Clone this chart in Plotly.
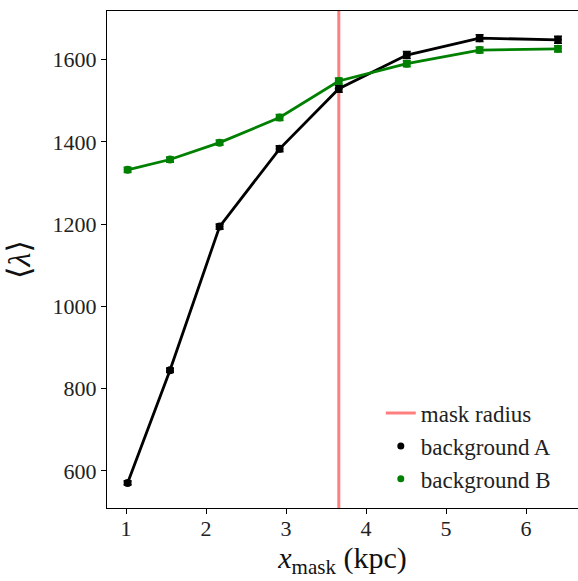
import plotly.graph_objects as go

x_mask = [1.02, 1.55, 2.17, 2.92, 3.66, 4.51, 5.42, 6.40]
lam_A = [571, 845, 1194, 1383, 1529, 1611, 1652, 1648]
err_A = [5, 5, 6, 7, 8, 8, 8, 8]
lam_B = [1332, 1357, 1398, 1459, 1548, 1590, 1623, 1626]
err_B = [6, 6, 6, 7, 7, 7, 7, 7]
mask_radius = 3.66
x_range = [0.7625, 6.65]
y_range = [510, 1718]
y_ticks = [600, 800, 1000, 1200, 1400, 1600]
x_ticks = [1, 2, 3, 4, 5, 6]

FONT = "Liberation Serif, DejaVu Serif, serif"
fig = go.Figure()

# mask radius line
fig.add_trace(go.Scatter(x=[mask_radius, mask_radius], y=y_range, mode="lines",
                         line=dict(color="rgba(255,0,0,0.5)", width=3),
                         name="mask radius", legendgroup="g1", showlegend=True))

fig.add_trace(go.Scatter(x=x_mask, y=lam_A, mode="lines+markers",
                         line=dict(color="black", width=2.8),
                         marker=dict(color="black", size=8),
                         error_y=dict(type="data", array=err_A, color="black", thickness=1.8, width=4),
                         showlegend=False))
fig.add_trace(go.Scatter(x=x_mask, y=lam_B, mode="lines+markers",
                         line=dict(color="green", width=2.8),
                         marker=dict(color="green", size=8),
                         error_y=dict(type="data", array=err_B, color="green", thickness=1.8, width=4),
                         showlegend=False))

# legend-only entries
fig.add_trace(go.Scatter(x=[None], y=[None], mode="markers", marker=dict(color="black", size=7),
                         name="background A", legendgroup="g2"))
fig.add_trace(go.Scatter(x=[None], y=[None], mode="markers", marker=dict(color="green", size=7),
                         name="background B", legendgroup="g3"))

fig.update_layout(
    width=578, height=581,
    margin=dict(l=107, r=0, t=11, b=73),
    plot_bgcolor="white", paper_bgcolor="white",
    font=dict(family=FONT, size=22, color="#222"),
    legend=dict(x=0.955, y=0.015, xanchor="right", yanchor="bottom",
                traceorder="grouped", tracegroupgap=0,
                bgcolor="rgba(255,255,255,0)", font=dict(size=23, family=FONT, color="#222")),
    xaxis=dict(range=x_range, tickvals=x_ticks, ticks="outside", ticklen=5, tickcolor="black",
               tickfont=dict(family=FONT, size=22, color="#222"), ticklabelstandoff=-5,
               showline=True, linecolor="black", linewidth=1.2, mirror=True, showgrid=False,
               zeroline=False,
               title=dict(text="<i>x</i><sub>mask</sub> (kpc)", font=dict(size=30, family=FONT, color="#111"),
                          standoff=6)),
    yaxis=dict(range=y_range, tickvals=y_ticks, ticks="outside", ticklen=5, tickcolor="black",
               tickfont=dict(family=FONT, size=22, color="#222"),
               showline=True, linecolor="black", linewidth=1.2, showgrid=False, zeroline=False,
               title=dict(text="⟨<i>λ</i>⟩", font=dict(size=32, family=FONT, color="#111"), standoff=12)),
)

fig.write_html("out.html")
